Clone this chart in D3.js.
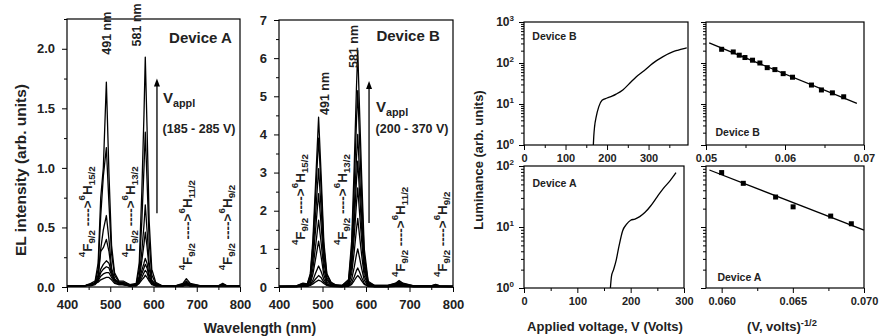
<!DOCTYPE html>
<html><head><meta charset="utf-8">
<script src="https://cdn.jsdelivr.net/npm/d3@7"></script>
<style>
body{margin:0;background:#fff}
text{font-family:"Liberation Sans",Arial,sans-serif;font-weight:bold;fill:#222}
</style>
</head><body>
<svg id="c" width="880" height="336"></svg>
<script>
// ---------- DATA ----------
const wavelength = [400,440,455,465,472,478,484,491,497,503,510,520,530,545,560,567,573,578,581,585,590,596,605,620,650,668,676,685,710,750,760,770,800];

// Device A EL spectra (arb. units), increasing applied voltage 185 - 285 V
const specA1 = [0.01,0.01,0.02,0.03,0.04,0.06,0.07,0.08,0.08,0.06,0.03,0.02,0.02,0.01,0.01,0.03,0.06,0.08,0.10,0.08,0.05,0.02,0.01,0.01,0.01,0.01,0.01,0.01,0.01,0.01,0.01,0.01,0.01];
const specA2 = [0.01,0.01,0.01,0.02,0.05,0.09,0.11,0.12,0.12,0.08,0.04,0.02,0.02,0.01,0.01,0.04,0.08,0.12,0.14,0.12,0.06,0.03,0.01,0.01,0.01,0.01,0.02,0.01,0.01,0.01,0.01,0.01,0.01];
const specA3 = [0.01,0.01,0.02,0.03,0.06,0.12,0.15,0.17,0.16,0.10,0.05,0.03,0.02,0.01,0.02,0.05,0.11,0.16,0.19,0.16,0.08,0.03,0.01,0.01,0.01,0.01,0.02,0.01,0.01,0.01,0.01,0.01,0.01];
const specA4 = [0.01,0.01,0.02,0.03,0.07,0.15,0.19,0.22,0.20,0.12,0.06,0.04,0.03,0.01,0.02,0.06,0.14,0.20,0.24,0.20,0.10,0.04,0.02,0.01,0.01,0.01,0.03,0.01,0.01,0.01,0.01,0.01,0.01];
const specA5 = [0.01,0.01,0.02,0.03,0.08,0.30,0.33,0.40,0.30,0.13,0.06,0.03,0.03,0.01,0.02,0.07,0.22,0.36,0.46,0.34,0.15,0.05,0.02,0.01,0.01,0.02,0.03,0.02,0.01,0.01,0.02,0.01,0.01];
const specA6 = [0.01,0.01,0.02,0.03,0.10,0.32,0.48,0.60,0.40,0.16,0.07,0.03,0.03,0.01,0.02,0.09,0.30,0.52,0.69,0.48,0.20,0.06,0.02,0.01,0.01,0.02,0.04,0.02,0.01,0.01,0.02,0.01,0.01];
const specA7 = [0.01,0.01,0.02,0.04,0.15,0.60,0.93,1.17,0.70,0.28,0.10,0.04,0.04,0.02,0.02,0.15,0.55,1.00,1.30,0.90,0.38,0.10,0.03,0.01,0.01,0.02,0.05,0.02,0.01,0.01,0.02,0.01,0.01];
const specA8 = [0.01,0.01,0.03,0.05,0.20,0.75,1.00,1.72,0.95,0.35,0.12,0.05,0.05,0.02,0.03,0.20,0.80,1.45,1.93,1.35,0.55,0.15,0.04,0.01,0.01,0.03,0.07,0.03,0.01,0.01,0.03,0.01,0.01];

// Device B EL spectra (arb. units), increasing applied voltage 200 - 370 V
const specB1 = [0.01,0.01,0.02,0.02,0.04,0.08,0.13,0.18,0.15,0.09,0.04,0.02,0.01,0.01,0.02,0.07,0.17,0.26,0.30,0.25,0.16,0.07,0.02,0.01,0.01,0.02,0.02,0.02,0.01,0.01,0.01,0.01,0.01];
const specB2 = [0.01,0.01,0.02,0.02,0.05,0.12,0.21,0.30,0.24,0.13,0.05,0.02,0.02,0.01,0.03,0.11,0.27,0.43,0.50,0.40,0.25,0.10,0.02,0.01,0.01,0.02,0.03,0.02,0.01,0.01,0.01,0.01,0.01];
const specB3 = [0.01,0.01,0.03,0.02,0.06,0.18,0.36,0.55,0.40,0.20,0.07,0.03,0.02,0.01,0.04,0.20,0.52,0.85,1.00,0.78,0.48,0.18,0.03,0.01,0.01,0.03,0.04,0.03,0.01,0.01,0.02,0.01,0.01];
const specB4 = [0.01,0.01,0.04,0.02,0.09,0.34,0.73,1.20,0.78,0.32,0.09,0.03,0.02,0.02,0.06,0.35,0.93,1.51,1.80,1.36,0.84,0.29,0.04,0.01,0.01,0.04,0.06,0.04,0.01,0.01,0.02,0.01,0.01];
const specB5 = [0.01,0.02,0.05,0.03,0.14,0.49,1.06,1.75,1.14,0.47,0.14,0.05,0.02,0.02,0.08,0.50,1.34,2.18,2.60,1.97,1.22,0.42,0.06,0.02,0.02,0.05,0.08,0.05,0.02,0.02,0.03,0.02,0.01];
const specB6 = [0.01,0.02,0.06,0.04,0.19,0.69,1.49,2.45,1.60,0.66,0.19,0.07,0.03,0.02,0.11,0.64,1.70,2.77,3.30,2.50,1.54,0.53,0.08,0.02,0.02,0.06,0.10,0.06,0.02,0.02,0.04,0.02,0.01];
const specB7 = [0.02,0.02,0.07,0.06,0.24,0.87,1.88,3.10,2.02,0.84,0.24,0.08,0.04,0.03,0.13,0.77,2.06,3.35,4.00,3.03,1.87,0.65,0.10,0.03,0.03,0.07,0.12,0.07,0.02,0.02,0.05,0.02,0.02];
const specB8 = [0.02,0.03,0.09,0.07,0.31,1.10,2.37,3.90,2.54,1.05,0.31,0.11,0.05,0.04,0.17,1.00,2.66,4.32,5.15,3.90,2.41,0.83,0.12,0.04,0.04,0.09,0.15,0.09,0.03,0.03,0.06,0.03,0.02];
const specB9 = [0.02,0.03,0.10,0.08,0.35,1.25,2.70,4.45,2.90,1.20,0.35,0.12,0.06,0.04,0.20,1.20,3.20,5.20,6.20,4.70,2.90,1.00,0.15,0.04,0.04,0.10,0.17,0.10,0.03,0.03,0.07,0.03,0.02];

// Luminance vs applied voltage
const voltB = [167,168,170,174,180,188,200,212,222,238,254,270,290,310,334,358,370,385,392];
const lumB  = [1,1.6,2.8,4.9,8.5,12.3,14,15.5,17.4,22,31.6,45.7,66,98,141,186,204,225,234];
const voltA = [162,164,168,173,178,185,192,200,208,217,227,237,250,261,274,285];
const lumA  = [1,1.55,2.0,2.9,4.8,8.7,11,12.9,13.5,14.8,17.4,21.9,31.6,42.7,57.5,77.6];

// Luminance vs V^-1/2 (points and fitted line)
const invSqrtB = [0.05198,0.05345,0.05421,0.05493,0.05589,0.05682,0.05775,0.05872,0.05977,0.06095,0.06335,0.06461,0.06600,0.06743];
const lumPtsB  = [216,186,155,136,117,100,77,69,55,45,29,22,18.7,15];
const fitXB = [0.0504,0.0691];
const fitYB = [308,10.3];
const invSqrtA = [0.0600,0.06152,0.06379,0.06502,0.06766,0.06911];
const lumPtsA  = [78,52,31,21.4,15.1,11.3];
const fitXA = [0.05914,0.0700];
const fitYA = [86,8.9];

// tick values
const wlTicks = [400,500,600,700,800];
const ticksYA = [0,0.5,1.0,1.5,2.0];
const ticksYB = [0,1,2,3,4,5,6,7];
const voltTicks = [0,100,200,300];
const invTicksB = [0.05,0.06,0.07];
const invTicksA = [0.060,0.065,0.070];

// ---------- DRAW ----------
const svg = d3.select('#c');
const FONT = '"Liberation Sans",Arial,sans-serif';

function frame(x, y) {
  const [x0,x1] = x.range(), [y0,y1] = y.range();
  svg.append('rect').attr('x',x0).attr('y',Math.min(y0,y1)).attr('width',x1-x0)
     .attr('height',Math.abs(y0-y1)).attr('fill','none').attr('stroke','#000').attr('stroke-width',1.2);
}
function styleAxis(g, size) {
  g.attr('font-family',FONT).attr('font-size',size).attr('font-weight','bold');
  g.select('.domain').remove();
  g.selectAll('line').attr('stroke','#000').attr('stroke-width',1);
  g.selectAll('text').attr('fill','#222');
}
function xAxis(x, yPos, major, minor, fmt, size, pad) {
  const g = svg.append('g').attr('transform',`translate(0,${yPos})`)
    .call(d3.axisBottom(x).tickValues(major).tickSize(5).tickPadding(pad).tickFormat(fmt));
  styleAxis(g,size);
  const m = svg.append('g').attr('transform',`translate(0,${yPos})`)
    .call(d3.axisBottom(x).tickValues(minor).tickSize(3).tickFormat(''));
  styleAxis(m,size);
}
function yAxis(x0, y, major, minor, fmt, size, pad) {
  const g = svg.append('g').attr('transform',`translate(${x0},0)`)
    .call(d3.axisLeft(y).tickValues(major).tickSize(5).tickPadding(pad).tickFormat(fmt));
  styleAxis(g,size);
  const m = svg.append('g').attr('transform',`translate(${x0},0)`)
    .call(d3.axisLeft(y).tickValues(minor).tickSize(3).tickFormat(''));
  styleAxis(m,size);
  return g;
}
function logMinor(lo, hi) {
  const out = [];
  for (let e = lo; e < hi; e++) for (let k = 2; k <= 9; k++) out.push(k*Math.pow(10,e));
  return out;
}
function powLabels(g) {
  g.selectAll('.tick text').each(function(d){
    const t = d3.select(this); t.text('');
    t.append('tspan').text('10');
    t.append('tspan').attr('dy',-5).attr('font-size',8).text(Math.round(Math.log10(d)));
  });
}
function rich(sel, parts, base) {
  let cur = 0;
  parts.forEach(p => {
    const target = p.s === 'sup' ? -0.42*base : p.s === 'sub' ? 0.3*base : 0;
    sel.append('tspan').attr('dy', target - cur).attr('font-size', p.s ? base*0.72 : base).text(p.t);
    cur = target;
  });
}
function vtext(x, y, parts, base, anchor) {
  const t = svg.append('text').attr('transform',`translate(${x},${y}) rotate(-90)`)
    .attr('text-anchor',anchor||'start').attr('dominant-baseline','central').attr('font-size',base);
  rich(t, parts, base);
  return t;
}
function trans(final) {
  return [{t:'4',s:'sup'},{t:'F'},{t:'9/2',s:'sub'},{t:' ---->'},{t:'6',s:'sup'},{t:'H'},{t:final,s:'sub'}];
}
function arrow(x, yb, yt) {
  svg.append('line').attr('x1',x).attr('x2',x).attr('y1',yb).attr('y2',yt+6).attr('stroke','#000').attr('stroke-width',1.3);
  svg.append('path').attr('d',`M${x},${yt} L${x-3},${yt+8} L${x+3},${yt+8} Z`).attr('fill','#000');
}
const lineGen = (x,y) => d3.line().x((d,i)=>x(wavelength[i])).y(d=>y(d));

// Panel A
const xA = d3.scaleLinear([400,800],[67,240]);
const yA = d3.scaleLinear([0,2.25],[287,19]);
[specA1,specA2,specA3,specA4,specA5,specA6,specA7,specA8].forEach(s=>{
  svg.append('path').datum(s).attr('d',lineGen(xA,yA)).attr('fill','none').attr('stroke','#000').attr('stroke-width',1.3).attr('stroke-linejoin','round');
});
frame(xA,yA);
xAxis(xA,287,wlTicks,[450,550,650,750],d3.format('d'),13,8);
yAxis(67,yA,ticksYA,[0.25,0.75,1.25,1.75,2.25],d3.format('.1f'),13,7);

// Panel B
const xB = d3.scaleLinear([400,800],[279,453]);
const yB = d3.scaleLinear([0,7],[287,20]);
[specB1,specB2,specB3,specB4,specB5,specB6,specB7,specB8,specB9].forEach(s=>{
  svg.append('path').datum(s).attr('d',lineGen(xB,yB)).attr('fill','none').attr('stroke','#000').attr('stroke-width',1.3).attr('stroke-linejoin','round');
});
frame(xB,yB);
xAxis(xB,287,wlTicks,[450,550,650,750],d3.format('d'),13,8);
yAxis(279,yB,ticksYB,[0.5,1.5,2.5,3.5,4.5,5.5,6.5],d3.format('d'),13,7);

// annotations A
vtext(xA(492), yA(1.95), [{t:'491 nm'}], 12.5);
vtext(xA(563), yA(2.02), [{t:'581 nm'}], 12.5);
vtext(xA(446), yA(0.25), trans('15/2'), 13.5);
vtext(xA(546), yA(0.25), trans('13/2'), 13.5);
vtext(xA(677), yA(0.14), trans('11/2'), 13.5);
vtext(xA(770), yA(0.14), trans('9/2'), 13.5);
svg.append('text').attr('x',xA(636)).attr('y',yA(2.05)).attr('font-size',15).text('Device A');
arrow(xA(608), yA(0.62), yA(1.75));
{ const t = svg.append('text').attr('x',xA(622)).attr('y',yA(1.545)).attr('font-size',15);
  rich(t,[{t:'V'},{t:'appl',s:'sub'}],15); }
svg.append('text').attr('x',xA(621)).attr('y',yA(1.29)).attr('font-size',12.5).text('(185 - 285 V)');

// annotations B
vtext(xB(506), yB(4.51), [{t:'491 nm'}], 12.5);
vtext(xB(572), yB(5.74), [{t:'581 nm'}], 12.5);
vtext(xB(448), yB(1.1), trans('15/2'), 13.5);
vtext(xB(545), yB(1.1), trans('13/2'), 13.5);
vtext(xB(678), yB(0.26), trans('11/2'), 13.5);
vtext(xB(775), yB(0.26), trans('9/2'), 13.5);
svg.append('text').attr('x',xB(624)).attr('y',yB(6.45)).attr('font-size',15).text('Device B');
arrow(xB(607), yB(1.68), yB(5.4));
{ const t = svg.append('text').attr('x',xB(623)).attr('y',yB(4.6)).attr('font-size',15);
  rich(t,[{t:'V'},{t:'appl',s:'sub'}],15); }
svg.append('text').attr('x',xB(622)).attr('y',yB(4.03)).attr('font-size',12.5).text('(200 - 370 V)');

svg.append('text').attr('transform','translate(20,170) rotate(-90)').attr('text-anchor','middle')
  .attr('dominant-baseline','central').attr('font-size',15.5).text('EL intensity (arb. units)');
svg.append('text').attr('x',260).attr('y',333).attr('text-anchor','middle').attr('font-size',14).text('Wavelength (nm)');

// Panel C (Device B luminance vs V)
const xC = d3.scaleLinear([0,395],[524,688]);
const yC = d3.scaleLog([1,1000],[145,22]);
svg.append('path').datum(voltB).attr('d',d3.line().x(d=>xC(d)).y((d,i)=>yC(lumB[i])).curve(d3.curveMonotoneX))
  .attr('fill','none').attr('stroke','#000').attr('stroke-width',1.3);
frame(xC,yC);
xAxis(xC,145,voltTicks,[50,150,250,350],d3.format('d'),11,4);
powLabels(yAxis(524,yC,[1,10,100,1000],logMinor(0,3),d3.format('d'),12,5));
svg.append('text').attr('x',xC(20)).attr('y',yC(360)).attr('font-size',10.5).text('Device B');

// Panel D (Device A luminance vs V)
const xD = d3.scaleLinear([0,300],[524,684]);
const yD = d3.scaleLog([1,100],[288,166]);
svg.append('path').datum(voltA).attr('d',d3.line().x(d=>xD(d)).y((d,i)=>yD(lumA[i])).curve(d3.curveMonotoneX))
  .attr('fill','none').attr('stroke','#000').attr('stroke-width',1.3);
frame(xD,yD);
xAxis(xD,288,voltTicks,[50,150,250],d3.format('d'),11,4);
powLabels(yAxis(524,yD,[1,10,100],logMinor(0,2),d3.format('d'),12,5));
svg.append('text').attr('x',xD(16)).attr('y',yD(45)).attr('font-size',10.5).text('Device A');

svg.append('text').attr('transform','translate(478,160) rotate(-90)').attr('text-anchor','middle')
  .attr('dominant-baseline','central').attr('font-size',13).text('Luminance (arb. units)');
svg.append('text').attr('x',605).attr('y',331).attr('text-anchor','middle').attr('font-size',13).text('Applied voltage, V (Volts)');

// Panel E
const xE = d3.scaleLinear([0.05,0.07],[706,864]);
const yE = d3.scaleLog([1,1000],[145,22]);
svg.append('path').datum(fitXB).attr('d',d3.line().x(d=>xE(d)).y((d,i)=>yE(fitYB[i]))).attr('stroke','#000').attr('stroke-width',1.3);
svg.selectAll('.pe').data(invSqrtB).enter().append('rect').attr('x',d=>xE(d)-2.5).attr('y',(d,i)=>yE(lumPtsB[i])-2.5)
  .attr('width',5).attr('height',5).attr('fill','#000');
frame(xE,yE);
xAxis(xE,145,invTicksB,[0.055,0.065],d3.format('.2f'),11,4);
yAxis(706,yE,[1,10,100,1000],logMinor(0,3),()=>'',11,4);
svg.append('text').attr('x',xE(0.0512)).attr('y',yE(1.65)).attr('font-size',10.5).text('Device B');

// Panel F
const xF = d3.scaleLinear([0.0589,0.070],[706,864]);
const yF = d3.scaleLog([1,100],[288,166]);
svg.append('path').datum(fitXA).attr('d',d3.line().x(d=>xF(d)).y((d,i)=>yF(fitYA[i]))).attr('stroke','#000').attr('stroke-width',1.3);
svg.selectAll('.pf').data(invSqrtA).enter().append('rect').attr('x',d=>xF(d)-2.5).attr('y',(d,i)=>yF(lumPtsA[i])-2.5)
  .attr('width',5).attr('height',5).attr('fill','#000');
frame(xF,yF);
xAxis(xF,288,invTicksA,[0.0625,0.0675],d3.format('.3f'),11,4);
yAxis(706,yF,[1,10,100],logMinor(0,2),()=>'',11,4);
svg.append('text').attr('x',xF(0.0597)).attr('y',yF(1.3)).attr('font-size',10.5).text('Device A');

{ const t = svg.append('text').attr('x',782).attr('y',331).attr('text-anchor','middle').attr('font-size',13);
  rich(t,[{t:'(V, volts)'},{t:'-1/2',s:'sup'}],13); }
</script>
</body></html>
